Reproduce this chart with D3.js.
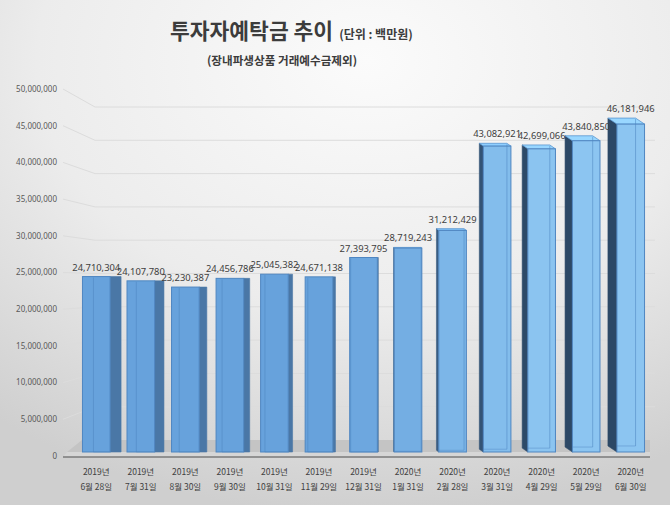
<!DOCTYPE html>
<html><head><meta charset="utf-8">
<script src="https://cdn.jsdelivr.net/npm/d3@7"></script>
<style>html,body{margin:0;padding:0;background:#fff;}svg{display:block;}</style>
</head><body>
<script>
const years = ["2019년","2019년","2019년","2019년","2019년","2019년","2019년","2020년","2020년","2020년","2020년","2020년","2020년"];
const dates = ["6월 28일","7월 31일","8월 30일","9월 30일","10월 31일","11월 29일","12월 31일","1월 31일","2월 28일","3월 31일","4월 29일","5월 29일","6월 30일"];
const values = [24710304,24107780,23230387,24456786,25045382,24671138,27393795,28719243,31212429,43082921,42699066,43840850,46181946];
const yTicks = [0,5000000,10000000,15000000,20000000,25000000,30000000,35000000,40000000,45000000,50000000];
const titleMain = "투자자예탁금 추이";
const titleUnit = "(단위 : 백만원)";
const subTitle = "(장내파생상품 거래예수금제외)";

const W = 670, H = 505;
const font = "'Noto Sans CJK KR','Noto Sans',sans-serif";
const numFont = "'Noto Sans','Open Sans',sans-serif";
const svg = d3.select("body").append("svg").attr("width", W).attr("height", H);
const defs = svg.append("defs");
const bg = defs.append("radialGradient").attr("id","bg").attr("cx","0.55").attr("cy","0.12").attr("r","0.9");
bg.append("stop").attr("offset","0").attr("stop-color","#fbfbfb");
bg.append("stop").attr("offset","0.55").attr("stop-color","#ececec");
bg.append("stop").attr("offset","1").attr("stop-color","#cfcfcf");
svg.append("rect").attr("width",W).attr("height",H).attr("fill","url(#bg)");

const idx = values.map((d,i)=>i);
const x = d3.scaleBand().domain(idx).range([74, 653]).paddingInner(0.38).paddingOuter(0.19);
const yBar = d3.scaleLinear().domain([0,50000000]).range([452, 97]);
const yLab = d3.scaleLinear().domain([0,50000000]).range([456, 89]);
const yBack = d3.scaleLinear().domain([0,50000000]).range([440, 107]);
const fmt = d3.format(",");

// gridlines
const grid = svg.append("g");
yTicks.filter(t=>t>0).forEach(t=>{
  grid.append("path")
    .attr("d", `M63,${yLab(t)} L95,${yBack(t)} L655,${yBack(t)}`)
    .attr("fill","none").attr("stroke","#dcdcdc").attr("stroke-width",1);
});
// y labels
svg.append("g").selectAll("text").data(yTicks).join("text")
  .attr("x",57).attr("y",d=>yLab(d)).attr("dy","0.35em")
  .attr("text-anchor","end").attr("font-family",numFont).attr("font-size",8)
  .attr("fill","#595959").text(d=>fmt(d));

// floor
svg.append("path").attr("d",`M67,452 L82,440 L650,440 L650,452 Z`).attr("fill","#c4c4c4");
svg.append("path").attr("d",`M63,457 L67,452 L650,452 L650,457 Z`).attr("fill","#d6d6d6");
svg.append("line").attr("x1",63).attr("x2",650).attr("y1",457).attr("y2",457)
  .attr("stroke","#7a7a7a").attr("stroke-width",1.5);

// bars
const dxOf = cx => 14.6 - 0.0374*cx;
const dyOf = cx => -Math.max(0,(cx-380)*0.024);
const frontCol = d3.interpolateRgb("#67a2dc","#8cc5f1");
const sideCol = d3.interpolateRgb("#4a77a6","#2c4866");
const bars = svg.append("g");
values.forEach((v,i)=>{
  const xl = x(i), xr = x(i)+x.bandwidth(), cx = (xl+xr)/2;
  const yt = yBar(v), yb = yBar(0);
  const dx = dxOf(cx), dy = dyOf(cx);
  const t = Math.max(0, Math.min(1, (cx-330)/220));
  const g = bars.append("g");
  const sx = dx>0 ? xr : xl;
  g.append("path").attr("d",`M${sx},${yt} L${sx+dx},${yt+dy} L${sx+dx},${yb+dy} L${sx},${yb} Z`)
    .attr("fill",sideCol(t)).attr("stroke",sideCol(t)).attr("stroke-width",0.6);
  if (dy < -0.3) {
    g.append("path").attr("d",`M${xl},${yt} L${xr},${yt} L${xr+dx},${yt+dy} L${xl+dx},${yt+dy} Z`)
      .attr("fill",d3.color(frontCol(t)).brighter(0.25)).attr("stroke","#5b95cf").attr("stroke-width",0.8);
  }
  g.append("rect").attr("x",xl).attr("y",yt).attr("width",xr-xl).attr("height",yb-yt)
    .attr("fill",frontCol(t)).attr("stroke","#4f86c1").attr("stroke-width",1);
  const ix = dx>0 ? xl+dx : xr+dx;
  g.append("line").attr("x1",ix).attr("x2",ix).attr("y1",yt+Math.min(dy,0)+1).attr("y2",yb+dy)
    .attr("stroke","#4f86c1").attr("stroke-opacity",0.55).attr("stroke-width",1);
  g.append("line").attr("x1",xl+Math.max(dx,0)).attr("x2",xr+Math.min(dx,0)).attr("y1",yb+dy).attr("y2",yb+dy)
    .attr("stroke","#4f86c1").attr("stroke-opacity",0.45).attr("stroke-width",1);
  // value label
  svg.append("text").attr("x",cx).attr("y",yt+dy-6).attr("text-anchor","middle")
    .attr("font-family",numFont).attr("font-size",9.4).attr("fill","#404040").text(fmt(v));
});

// x labels
const xl = svg.append("g");
idx.forEach(i=>{
  const cx = x(i)+x.bandwidth()/2;
  xl.append("text").attr("x",cx).attr("y",475).attr("text-anchor","middle")
    .attr("font-family",font).attr("font-size",8.5).attr("fill","#404040").text(years[i]);
  xl.append("text").attr("x",cx).attr("y",490).attr("text-anchor","middle")
    .attr("font-family",font).attr("font-size",8.5).attr("fill","#404040").text(dates[i]);
});

// titles
const tt = svg.append("text").attr("x",170).attr("y",39).attr("font-family",font)
  .attr("font-weight","bold").attr("fill","#3c3c3c");
tt.append("tspan").attr("font-size",21.5).text(titleMain);
tt.append("tspan").attr("font-size",12).attr("dx",6).text(titleUnit);
svg.append("text").attr("x",282).attr("y",65).attr("text-anchor","middle").attr("font-family",font)
  .attr("font-weight","bold").attr("font-size",11.6).attr("fill","#3c3c3c").text(subTitle);
</script>
</body></html>
